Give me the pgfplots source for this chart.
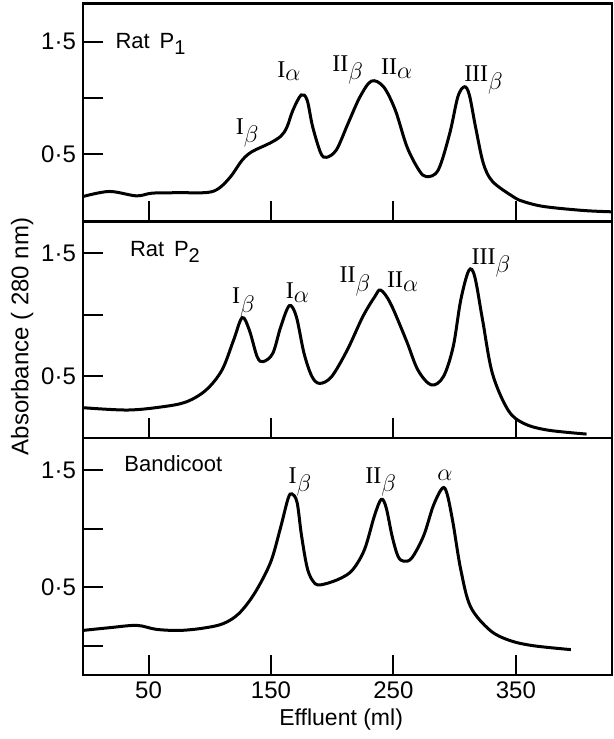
\documentclass[border=0pt]{standalone}
\usepackage{pgfplots}
\pgfplotsset{compat=1.18}
\usepackage{fontspec}
\setmainfont{Liberation Sans}
\newfontfamily\ser{Liberation Serif}
\begin{document}
\begin{tikzpicture}
\path[use as bounding box] (0,0) rectangle (307pt,-369.5pt);
\tikzset{pk/.style={font=\fontsize{12}{14}\selectfont\ser, inner sep=0pt},
  nm/.style={anchor=west, inner sep=0pt, font=\fontsize{11}{13}\selectfont}}
\newcommand{\sub}[1]{$_{\textstyle #1}$}
\newcommand{\low}[1]{\raisebox{-0.55ex}{\fontsize{10}{12}\selectfont #1}}
\pgfplotsset{
  panel/.style={
    scale only axis, width=264.5pt,
    xmin=-3.5, xmax=428.5,
    axis line style={line width=1.2pt},
    every tick/.style={black, line width=1pt},
    tick align=inside, major tick length=10pt,
    xtick={50,150,250,350}, xtick pos=bottom, ytick pos=left,
    /pgf/number format/assume math mode=true,
    tick label style={font=\fontsize{12}{14}\selectfont},
    clip=false,
  },
  curve/.style={black, line width=1.5pt, smooth, tension=0.55, no marks},
}
% ---------------- Panel 1 ----------------
\begin{axis}[panel, at={(41.5pt,-1.75pt)}, anchor=north west, height=109pt,
  ymin=-0.098, ymax=1.84, ytick={0.5,1,1.5}, yticklabels={0·5,,1·5}, xticklabels={}]
\addplot[curve] coordinates {
(-3.5,0.124) (18,0.169) (40,0.13) (53,0.154) (75,0.158) (98,0.16) (107.6,0.198) (117,0.30)
(126.7,0.45) (134.7,0.524) (149,0.598) (158,0.66) (163,0.74) (168,0.893) (174.7,1.027)
(179.5,0.982) (184,0.746) (190.7,0.509) (195.5,0.473) (203.5,0.54) (213,0.775) (222.7,1.01)
(232,1.15) (241.9,1.10) (251.5,0.893) (261,0.568) (270.7,0.361) (277,0.30) (286.6,0.36)
(296,0.686) (302.6,1.01) (308,1.10) (312,1.027) (317,0.746) (323.4,0.42) (331,0.257)
(347.6,0.124) (356,0.08) (373,0.035) (405,0.0) (428.5,-0.012)};
\node[nm] at (axis cs:22.8,1.48) {Rat\, P\low{1}};
\node[pk] at (axis cs:131,0.69) {I\sub\beta};
\node[pk] at (axis cs:165,1.24) {I\sub\alpha};
\node[pk] at (axis cs:213,1.25) {II\sub\beta};
\node[pk] at (axis cs:253,1.26) {II\sub\alpha};
\node[pk] at (axis cs:324,1.16) {III\sub\beta};
\end{axis}
% ---------------- Panel 2 ----------------
\begin{axis}[panel, at={(41.5pt,-111pt)}, anchor=north west, height=108pt,
  ymin=-0.005, ymax=1.755, ytick={0.5,1,1.5}, yticklabels={0·5,,1·5}, xticklabels={},
  ylabel={Absorbance ( 280 nm)},
  ylabel style={at={(axis description cs:-0.115,0.47)}, anchor=center, font=\fontsize{12}{14}\selectfont}]
\addplot[curve] coordinates {
(-3.5,0.242) (33,0.223) (61.8,0.25) (81,0.29) (97,0.386) (110,0.549) (119.5,0.793)
(126.5,0.976) (132.3,0.875) (138.7,0.658) (143.5,0.617) (151.5,0.685) (158,0.902)
(165,1.073) (170.7,0.984) (177,0.685) (183.5,0.495) (189.9,0.44) (199.5,0.495)
(212.3,0.712) (225,0.984) (234.8,1.147) (239.6,1.20) (247.6,1.092) (260.4,0.793)
(270,0.549) (281,0.427) (290.8,0.495) (298.8,0.739) (305,1.12) (311.6,1.36) (316.4,1.31)
(322.8,0.957) (330.8,0.522) (343.6,0.223) (356.4,0.114) (375.6,0.06) (407.7,0.027)};
\node[nm] at (axis cs:34.6,1.51) {Rat\, P\low{2}};
\node[pk] at (axis cs:128,1.10) {I\sub\beta};
\node[pk] at (axis cs:172,1.18) {I\sub\alpha};
\node[pk] at (axis cs:219,1.27) {II\sub\beta};
\node[pk] at (axis cs:258,1.27) {II\sub\alpha};
\node[pk] at (axis cs:330,1.42) {III\sub\beta};
\end{axis}
% ---------------- Panel 3 ----------------
\begin{axis}[panel, at={(41.5pt,-219pt)}, anchor=north west, height=118.5pt,
  ymin=-0.25, ymax=1.775, ytick={0,0.5,1,1.5}, yticklabels={,0·5,,1·5},
  xticklabels={50,150,250,350},
  xlabel={Effluent (ml)},
  xlabel style={at={(axis description cs:0.488,-0.19)}, anchor=center, font=\fontsize{11.5}{14}\selectfont}]
\addplot[curve] coordinates {
(-3.5,0.131) (18,0.154) (40.4,0.174) (56.4,0.14) (75.7,0.131) (95,0.151) (111,0.189)
(123.8,0.275) (136.6,0.448) (149.5,0.708) (157.5,0.996) (163.9,1.255) (167,1.298)
(171.3,1.226) (175,0.938) (180,0.65) (186.3,0.529) (194.4,0.529) (207.2,0.578)
(216.8,0.65) (226.4,0.823) (234.5,1.11) (240,1.25) (244,1.183) (248.9,0.938)
(253.7,0.765) (258.5,0.722) (265,0.75) (274.6,0.938) (282.6,1.197) (290,1.347)
(293.8,1.298) (298.6,1.053) (305,0.65) (313,0.333) (329,0.131) (345,0.045)
(364.4,0.0) (394.9,-0.033)};
\node[nm] at (axis cs:30,1.558) {Bandicoot};
\node[pk] at (axis cs:174,1.40) {I\sub\beta};
\node[pk] at (axis cs:240,1.40) {II\sub\beta};
\node[pk] at (axis cs:292,1.46) {$\alpha$};
\end{axis}
\end{tikzpicture}
\end{document}
